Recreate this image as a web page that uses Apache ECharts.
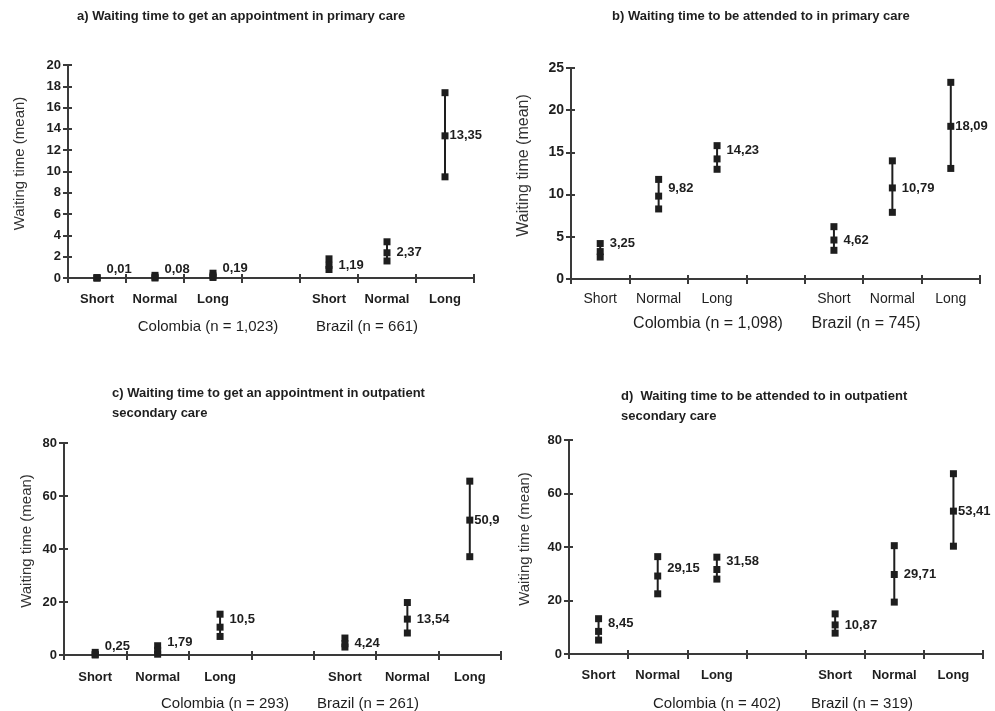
<!DOCTYPE html>
<html><head><meta charset="utf-8">
<script src="https://cdn.jsdelivr.net/npm/echarts@6/dist/echarts.min.js"></script>
<style>html,body{margin:0;padding:0;background:#fff}#c{width:995px;height:711px}</style>
</head><body><div id="c"></div>
<script>
// ---------- data ----------
const categories = ['Short', 'Normal', 'Long', '', 'Short', 'Normal', 'Long'];
const colombiaIdx = [0, 1, 2];
const brazilIdx = [4, 5, 6];
const yAxisName = 'Waiting time (mean)';
const panelTitles = [
  'a) Waiting time to get an appointment in primary care',
  'b) Waiting time to be attended to in primary care',
  'c) Waiting time to get an appointment in outpatient\nsecondary care',
  'd)  Waiting time to be attended to in outpatient\nsecondary care'
];
const groupLabels = [
  ['Colombia (n = 1,023)', 'Brazil (n = 661)'],
  ['Colombia (n = 1,098)', 'Brazil (n = 745)'],
  ['Colombia (n = 293)', 'Brazil (n = 261)'],
  ['Colombia (n = 402)', 'Brazil (n = 319)']
];
const yMax = [20, 25, 80, 80];
const yStep = [2, 5, 20, 20];

// a) appointment, primary care
const aColMean = [0.01, 0.08, 0.19];
const aColLow = [0, 0, 0.05];
const aColHigh = [0.03, 0.25, 0.45];
const aBraMean = [1.19, 2.37, 13.35];
const aBraLow = [0.8, 1.6, 9.5];
const aBraHigh = [1.8, 3.4, 17.4];
// b) attended, primary care
const bColMean = [3.25, 9.82, 14.23];
const bColLow = [2.6, 8.3, 13.0];
const bColHigh = [4.2, 11.8, 15.8];
const bBraMean = [4.62, 10.79, 18.09];
const bBraLow = [3.4, 7.9, 13.1];
const bBraHigh = [6.2, 14.0, 23.3];
// c) appointment, outpatient secondary care
const cColMean = [0.25, 1.79, 10.5];
const cColLow = [0, 0.3, 7.0];
const cColHigh = [1.0, 3.5, 15.4];
const cBraMean = [4.24, 13.54, 50.9];
const cBraLow = [3.0, 8.3, 37.1];
const cBraHigh = [6.4, 19.8, 65.6];
// d) attended, outpatient secondary care
const dColMean = [8.45, 29.15, 31.58];
const dColLow = [5.2, 22.5, 28.0];
const dColHigh = [13.2, 36.4, 36.2];
const dBraMean = [10.87, 29.71, 53.41];
const dBraLow = [7.8, 19.4, 40.3];
const dBraHigh = [15.0, 40.5, 67.4];

const panels = [
  {col: [aColMean, aColLow, aColHigh], bra: [aBraMean, aBraLow, aBraHigh]},
  {col: [bColMean, bColLow, bColHigh], bra: [bBraMean, bBraLow, bBraHigh]},
  {col: [cColMean, cColLow, cColHigh], bra: [cBraMean, cBraLow, cBraHigh]},
  {col: [dColMean, dColLow, dColHigh], bra: [dBraMean, dBraLow, dBraHigh]}
];

// ---------- layout / style ----------
const FONT = '"Liberation Sans", Arial, Helvetica, sans-serif';
const INK = '#1e1e1e';
const AXIS = '#3a3a3a';
const layout = [
  {grid: {left: 68, top: 65, width: 406, height: 213}, nameGap: 41, nameFont: 15, tickFont: 13, catFont: 13, catBold: 'bold', catMargin: 15,
   title: {left: 77, top: 6}, groupFont: 15, groups: [[208, 327], [367, 327]]},
  {grid: {left: 571, top: 68, width: 409, height: 211}, nameGap: 39, nameFont: 16, tickFont: 14, catFont: 14, catBold: 'normal', catMargin: 13,
   title: {left: 612, top: 6}, groupFont: 16, groups: [[708, 324], [866, 324]]},
  {grid: {left: 64, top: 443, width: 437, height: 212}, nameGap: 30, nameFont: 15, tickFont: 13, catFont: 13, catBold: 'bold', catMargin: 16,
   title: {left: 112, top: 383}, groupFont: 15, groups: [[225, 704], [368, 704]]},
  {grid: {left: 569, top: 440, width: 414, height: 214}, nameGap: 37, nameFont: 15, tickFont: 13, catFont: 13, catBold: 'bold', catMargin: 15,
   title: {left: 621, top: 386}, groupFont: 15, groups: [[717, 704], [862, 704]]}
];

function fmt(v) { return String(v).replace('.', ','); }

const SQ = 7;
function renderBar(params, api) {
  const x = api.value(0);
  const lo = api.coord([x, api.value(1)]);
  const hi = api.coord([x, api.value(2)]);
  return {type: 'group', children: [
    {type: 'line', shape: {x1: lo[0], y1: lo[1], x2: hi[0], y2: hi[1]}, style: {stroke: INK, lineWidth: 2}},
    {type: 'rect', shape: {x: lo[0] - SQ / 2, y: lo[1] - SQ / 2, width: SQ, height: SQ}, style: {fill: INK}},
    {type: 'rect', shape: {x: hi[0] - SQ / 2, y: hi[1] - SQ / 2, width: SQ, height: SQ}, style: {fill: INK}}
  ]};
}

const grid = [], xAxis = [], yAxis = [], series = [], title = [], graphic = [];

panels.forEach((p, k) => {
  const L = layout[k];
  grid.push(Object.assign({containLabel: false}, L.grid));
  const xa = 2 * k;
  xAxis.push({
    type: 'category', gridIndex: k, data: categories, position: 'bottom',
    axisLine: {onZero: false, lineStyle: {color: AXIS, width: 2}},
    axisTick: {show: true, length: 5, lineStyle: {color: AXIS, width: 2}},
    axisLabel: {interval: 0, margin: L.catMargin, color: INK, fontFamily: FONT, fontSize: L.catFont, fontWeight: L.catBold},
    splitLine: {show: false}
  });
  xAxis.push({
    type: 'category', gridIndex: k, data: categories, position: 'bottom',
    axisLine: {show: false, onZero: false},
    axisTick: {show: true, inside: true, length: 4, lineStyle: {color: AXIS, width: 2}},
    axisLabel: {show: false}, splitLine: {show: false}
  });
  yAxis.push({
    type: 'value', gridIndex: k, min: 0, max: yMax[k], interval: yStep[k], position: 'left',
    name: yAxisName, nameLocation: 'middle', nameGap: L.nameGap, nameRotate: 90,
    nameTextStyle: {color: '#333', fontFamily: FONT, fontSize: L.nameFont, padding: [0, 0, 0, 16]},
    axisLine: {show: true, lineStyle: {color: AXIS, width: 2}},
    axisTick: {show: true, length: 5, lineStyle: {color: AXIS, width: 2}},
    axisLabel: {color: INK, fontFamily: FONT, fontSize: L.tickFont, fontWeight: 'bold', margin: 7},
    splitLine: {show: false}
  });
  yAxis.push({
    type: 'value', gridIndex: k, min: 0, max: yMax[k], interval: yStep[k], position: 'left',
    axisLine: {show: false},
    axisTick: {show: true, inside: true, length: 4, lineStyle: {color: AXIS, width: 2}},
    axisLabel: {show: false}, splitLine: {show: false}
  });

  [[p.col, colombiaIdx, -8], [p.bra, brazilIdx, 0]].forEach(([d, idx, dy]) => {
    const [mean, low, high] = d;
    series.push({
      type: 'custom', xAxisIndex: xa, yAxisIndex: 2 * k, renderItem: renderBar, clip: false,
      data: idx.map((c, i) => [c, low[i], high[i]]), z: 2, silent: true
    });
    series.push({
      type: 'scatter', xAxisIndex: xa, yAxisIndex: 2 * k, symbol: 'rect', symbolSize: SQ,
      itemStyle: {color: INK, opacity: 1}, z: 3, silent: true,
      data: idx.map((c, i) => ({
        value: [c, mean[i]],
        label: {distance: (dy === 0 && i === 2) ? 1 : 6}
      })),
      label: {
        show: true, position: 'right', offset: [0, dy], color: INK,
        fontFamily: FONT, fontSize: 13, fontWeight: 'bold',
        formatter: (q) => fmt(q.value[1])
      }
    });
  });

  title.push({
    text: panelTitles[k], left: L.title.left, top: L.title.top, padding: 0,
    textStyle: {fontFamily: FONT, fontSize: 13, fontWeight: 'bold', color: INK, lineHeight: 20}
  });
  L.groups.forEach((g, j) => {
    graphic.push({
      type: 'text', x: g[0], y: g[1],
      style: {text: groupLabels[k][j], fill: INK, font: L.groupFont + 'px ' + FONT, textAlign: 'center', textVerticalAlign: 'middle'}
    });
  });
});

const chart = echarts.init(document.getElementById('c'), null, {renderer: 'canvas'});
chart.setOption({
  backgroundColor: '#fff', animation: false,
  title, grid, xAxis, yAxis, series, graphic
});
</script>
</body></html>
